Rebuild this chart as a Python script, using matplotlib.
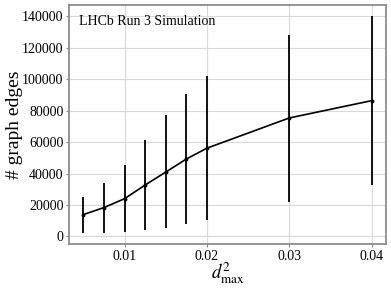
import numpy as np
import matplotlib.pyplot as plt

# d^2_max scan: number of graph edges (mean with spread)
d2max = [0.005, 0.0075, 0.01, 0.0125, 0.015, 0.0175, 0.02, 0.03, 0.04]
edges_mean = [13900, 18350, 24000, 32700, 40900, 49200, 56100, 75300, 86300]
edges_high = [25100, 34200, 45600, 61400, 77200, 90500, 101900, 128300, 140200]
edges_low = [2100, 2300, 2700, 3800, 5100, 7600, 10500, 22100, 32500]

plt.rcParams["font.family"] = ["Liberation Serif", "DejaVu Serif"]
plt.rcParams["mathtext.fontset"] = "stix"

mean = np.array(edges_mean)
yerr = [mean - np.array(edges_low), np.array(edges_high) - mean]

fig = plt.figure(figsize=(3.91, 2.88), dpi=100)
ax = fig.add_axes([69 / 391, 1 - 244 / 288, (386 - 69) / 391, (244 - 5) / 288])
ax.errorbar(d2max, edges_mean, yerr=yerr, color="black", lw=1.2,
            elinewidth=1.3, marker="o", ms=1.8, capsize=0)
ax.grid(True, color="#d9d9d9", lw=0.8)
ax.set_axisbelow(True)
for s in ax.spines.values():
    s.set_color("#8c8c8c")
    s.set_linewidth(1.3)
ax.tick_params(length=2.5, color="#8c8c8c", labelsize=10, pad=1.5)
ax.set_xticks([0.01, 0.02, 0.03, 0.04])
ax.set_yticks(np.arange(0, 140001, 20000))
ax.set_xlabel(r"$d^2_{\rm max}$", fontsize=13.5, labelpad=-1.5)
ax.set_ylabel("# graph edges", fontsize=14, labelpad=-1)
ax.text(0.03, 0.96, "LHCb Run 3 Simulation", transform=ax.transAxes,
        fontsize=10, va="top", ha="left")

fig.savefig("out.png", dpi=100)
